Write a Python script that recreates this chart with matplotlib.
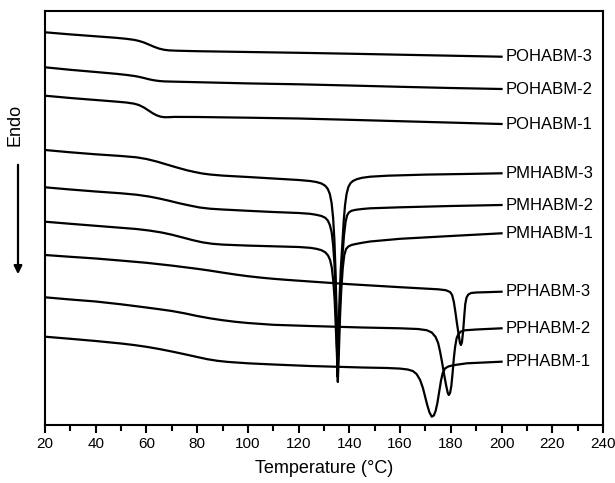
import matplotlib
matplotlib.use("Agg")
import matplotlib.pyplot as plt

plt.rcParams['font.family'] = ['Liberation Sans', 'DejaVu Sans']

# Curve readings: temperature (°C) and heat-flow signal (arbitrary, drawn top-down)
pohabm3_t = [20, 30, 40, 48, 52, 55, 57, 59, 61, 63, 65, 67, 69, 72, 80, 100, 120, 140, 160, 180, 200]
pohabm3_y = [32.3, 34.4, 36.3, 37.8, 38.8, 39.8, 40.9, 42.5, 44.6, 46.8, 48.6, 49.8, 50.4, 50.7, 51.2, 52, 52.8, 53.7, 54.7, 55.7, 56.7]

pohabm2_t = [20, 30, 40, 48, 52, 55, 57, 59, 61, 63, 65, 67, 70, 80, 100, 120, 140, 160, 180, 200]
pohabm2_y = [67.3, 69.8, 72, 73.8, 74.9, 75.9, 76.8, 78, 79.3, 80.3, 81, 81.4, 81.6, 82.2, 83.4, 84.3, 85.5, 86.8, 88, 89]

pohabm1_t = [20, 30, 40, 48, 52, 55, 57, 59, 61, 62.5, 64, 65.5, 67, 68.5, 71, 80, 100, 120, 140, 160, 180, 200]
pohabm1_y = [95.7, 98, 100, 101.6, 102.5, 103.6, 105, 107.5, 110.8, 113.3, 115.3, 116.6, 117.2, 117.2, 116.9, 117, 117.7, 118.5,
             119.8, 121.2, 122.6, 124]

pmhabm3_t = [20, 30, 40, 50, 56, 60, 64, 68, 72, 76, 79, 82, 85, 90, 100, 110, 120, 124.5, 127, 129, 130.5, 131.5, 132.3,
             133, 133.6, 134.1, 134.6, 135, 135.3, 135.7, 136.1, 136.6, 137.2, 137.8, 138.3, 138.9, 139.6, 140.4, 141.4,
             142.9, 145, 148.2, 155, 170, 185, 200]
pmhabm3_y = [150, 152.3, 154.3, 156, 157.3, 159, 161.5, 164.5, 167.5, 170.3, 172, 173.5, 174.5, 175.6, 177, 178.5, 180, 181,
             182, 183.5, 185.8, 189, 194, 203, 218, 240, 275, 320, 372, 335, 300, 270, 245, 220, 205, 194, 187, 183.3, 181,
             179.2, 177.8, 176.7, 175.7, 174.6, 174, 173.3]

pmhabm2_t = [20, 30, 40, 50, 56, 61, 65, 69, 73, 77, 81, 85, 90, 100, 110, 120, 124.5, 127, 129, 130.5, 131.5, 132.3, 133,
             133.6, 134.1, 134.6, 135, 135.35, 135.8, 136.2, 136.7, 137.3, 137.9, 138.5, 139.1, 139.8, 140.8, 142.5, 145,
             148.2, 160, 180, 200]
pmhabm2_y = [187.3, 189.5, 191.5, 193.3, 194.7, 196.5, 198.5, 200.8, 203.3, 205.5, 207.5, 208.7, 209.5, 210.8, 212, 213,
             213.8, 214.8, 216, 217.8, 220.5, 225, 232, 245, 263, 290, 330, 377, 340, 310, 280, 255, 235, 222, 215.5,
             212.5, 210.8, 209.8, 209, 208.3, 207.3, 206, 205]

pmhabm1_t = [20, 30, 40, 50, 56, 61, 66, 70, 74, 78, 82, 86, 90, 100, 110, 120, 124.5, 127, 129, 130.5, 131.6, 132.4,
             133.1, 133.7, 134.2, 134.7, 135.1, 135.45, 135.9, 136.3, 136.8, 137.4, 138, 138.7, 139.6, 140.8, 142.5, 145,
             148.2, 160, 180, 200]
pmhabm1_y = [221.7, 223.8, 225.8, 227.8, 229, 230.5, 232.5, 234.7, 237.3, 240, 242.3, 243.8, 244.6, 245.6, 246.3, 247,
             247.8, 248.8, 250.2, 252.3, 255.5, 260, 268, 282, 300, 330, 355, 382, 350, 318, 290, 268, 255, 249, 246.5,
             245, 244, 242.8, 241.5, 238.8, 236, 233.3]

pphabm3_t = [20, 30, 40, 50, 55, 60, 65, 70, 75, 80, 85, 90, 95, 100, 105, 110, 115, 124.5, 140, 160, 175, 178, 179.7,
             180.5, 181.2, 181.8, 182.4, 183, 183.6, 184, 184.4, 184.9, 185.3, 185.7, 186.2, 186.9, 188, 190, 200]
pphabm3_y = [255, 256.8, 258.5, 260.6, 261.7, 262.8, 264.2, 265.6, 267.2, 268.8, 270.6, 272.6, 274.5, 276.2, 277.6, 278.8,
             279.8, 281.5, 284.2, 287.2, 289.3, 290.2, 292, 295, 302, 312, 323, 333, 343, 345, 342, 330, 316, 304, 297.5,
             294.5, 293, 292.5, 291.7]

pphabm2_t = [20, 30, 40, 50, 57.5, 65, 70, 75, 80, 85, 90, 95, 100, 110, 124.5, 145, 160, 167, 170.5, 172.5, 174, 175,
             175.8, 176.6, 177.4, 178.2, 178.8, 179.2, 179.7, 180.2, 180.7, 181.2, 181.7, 182.3, 183, 184, 185.5, 190, 200]
pphabm2_y = [297.3, 299.5, 301.5, 304.3, 306.7, 309.2, 311, 313.3, 316, 318.3, 320.2, 321.8, 323, 324.8, 326, 327.5, 328.3,
             329, 330.2, 332.5, 337, 343, 352, 363, 375, 386, 393, 395, 393, 386, 373, 358, 346.7, 338, 334, 331.5, 330.3,
             329.5, 328.3]

pphabm1_t = [20, 30, 40, 50, 55, 60, 65, 70, 75, 80, 84, 88, 92, 100, 110, 124.5, 145, 155, 160, 163, 165, 166.5, 167.9,
             169, 169.8, 170.7, 171.6, 172.5, 173.3, 174, 174.7, 175.4, 176.1, 176.8, 177.7, 179, 181, 186.3, 200]
pphabm1_y = [336.7, 338.8, 341, 343.5, 345, 346.8, 349, 351.5, 354.2, 357, 359.2, 360.8, 361.9, 363.3, 364.5, 366, 367.5,
             368, 368.6, 369.5, 371, 374, 380, 388, 396, 405, 412.5, 416.7, 415.5, 411, 403, 392, 381, 373, 368.5, 366.5,
             365.2, 363.3, 361.7]

series = [
    ("POHABM-3", pohabm3_t, pohabm3_y),
    ("POHABM-2", pohabm2_t, pohabm2_y),
    ("POHABM-1", pohabm1_t, pohabm1_y),
    ("PMHABM-3", pmhabm3_t, pmhabm3_y),
    ("PMHABM-2", pmhabm2_t, pmhabm2_y),
    ("PMHABM-1", pmhabm1_t, pmhabm1_y),
    ("PPHABM-3", pphabm3_t, pphabm3_y),
    ("PPHABM-2", pphabm2_t, pphabm2_y),
    ("PPHABM-1", pphabm1_t, pphabm1_y),
]

x_ticks = [20, 40, 60, 80, 100, 120, 140, 160, 180, 200, 220, 240]

W, H = 615, 483
fig = plt.figure(figsize=(W / 100, H / 100), dpi=100)
ax = fig.add_axes([45 / W, 1 - 425 / H, (603 - 45) / W, (425 - 11) / H])

for name, t, y in series:
    ax.plot(t, y, color='black', lw=1.6, solid_joinstyle='round')
    ax.text(t[-1] + 1.6, y[-1], name, ha='left', va='center', fontsize=12, color='black')

ax.set_xlim(20, 240)
ax.set_ylim(425, 11)
ax.set_xticks(x_ticks)
ax.set_xticks(range(30, 240, 20), minor=True)
ax.set_yticks([])
ax.tick_params(axis='x', which='major', direction='out', length=6, width=1.5, labelsize=11, pad=3)
ax.tick_params(axis='x', which='minor', direction='out', length=4.5, width=1.5)
for s in ax.spines.values():
    s.set_linewidth(1.5)
ax.set_xlabel('Temperature (°C)', fontsize=13, labelpad=6)

fig.text(15 / W, 1 - 125 / H, 'Endo', rotation=90, ha='center', va='center', fontsize=13)
ax.annotate('', xy=(18 / W, 1 - 277 / H), xytext=(18 / W, 1 - 162 / H),
            xycoords='figure fraction', textcoords='figure fraction',
            arrowprops=dict(arrowstyle='-|>', color='black', lw=1.6, mutation_scale=12))

fig.savefig('out.png', dpi=100)
